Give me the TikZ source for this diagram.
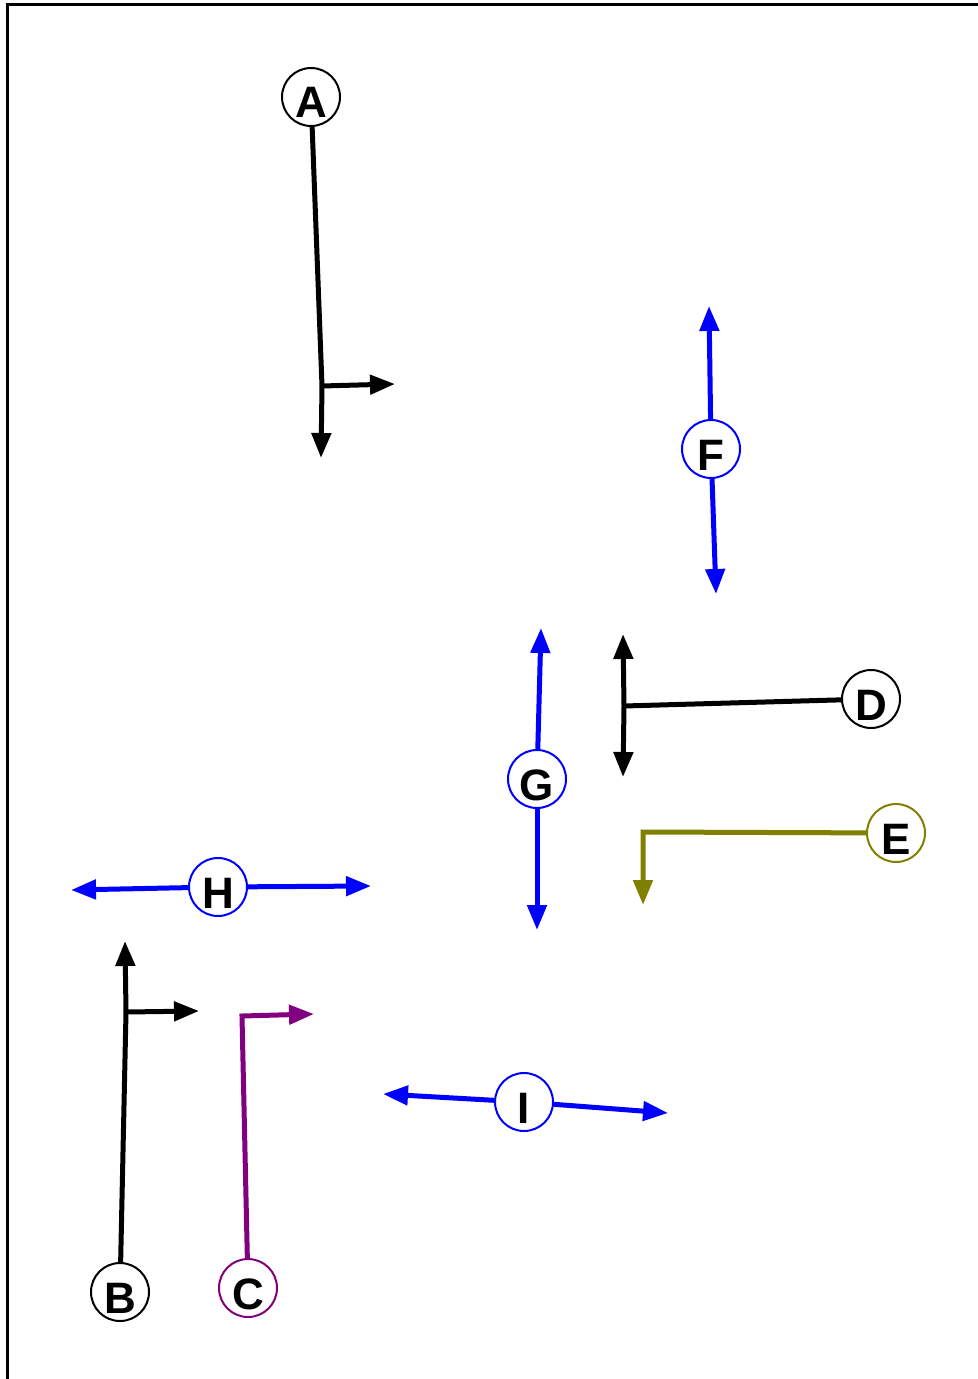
\documentclass[tikz,border=0pt]{standalone}
\usepackage{fontspec}
\setmainfont{Liberation Sans}
\usepackage{xcolor}
\usetikzlibrary{shapes,arrows.meta,positioning,calc}

\definecolor{olivec}{RGB}{128,128,0}
\definecolor{purplec}{RGB}{128,0,128}

\tikzset{
    letter/.style={circle, draw, fill=white, line width=1pt, minimum size=29pt, inner sep=0pt,
        font=\fontsize{22}{22}\selectfont\bfseries, text height=21pt, text depth=0pt},
    wire/.style={line width=2.5pt},
    arr/.style={wire, -{Triangle[length=12.5pt,width=9.5pt]}}
}

\begin{document}
\begin{tikzpicture}[x=0.5pt, y=-0.5pt]
    \useasboundingbox (0,0) rectangle (978,1379);
    % Frame
    \draw[line width=1.5pt] (7,1379) -- (7,5) -- (978,5);

    % Nodes
    \node[letter] (A) at (311,97) {A};
    \node[letter] (B) at (120,1292) {B};
    \node[letter, draw=purplec] (C) at (248,1288) {C};
    \node[letter] (D) at (871,699) {D};
    \node[letter, draw=olivec] (E) at (896,833) {E};
    \node[letter, draw=blue] (F) at (711,449) {F};
    \node[letter, draw=blue] (G) at (537,779) {G};
    \node[letter, draw=blue] (H) at (218,887) {H};
    \node[letter, draw=blue] (I) at (524,1102) {I};

    % Branch points and free ends
    \coordinate (aj) at (322,386);
    \coordinate (bj) at (126,1012);
    \coordinate (cj) at (242,1016);
    \coordinate (dj) at (624,706);
    \coordinate (ej) at (643,832);

    % Black connectors
    \draw[wire] (A) -- (aj);
    \draw[arr] (aj) -- (321,458);
    \draw[arr] (aj) -- (395,384);
    \draw[wire] (B) -- (bj);
    \draw[arr] (bj) -- (125,941);
    \draw[arr] (bj) -- (199,1011);
    \draw[wire] (D) -- (dj);
    \draw[arr] (dj) -- (623,634);
    \draw[arr] (dj) -- (623,777);

    % Coloured connectors
    \draw[arr, purplec] (C) -- (cj) -- (314,1014);
    \draw[arr, olivec] (E) -- (ej) -- (643,905);

    % Blue double arrows
    \foreach \n/\p/\q in {F/{(709,306)}/{(716,594)}, G/{(541,628)}/{(537,930)},
                          H/{(71,890)}/{(371,886)}, I/{(383,1094)}/{(668,1113)}} {
        \draw[arr, blue] (\n) -- \p;
        \draw[arr, blue] (\n) -- \q;
    }
\end{tikzpicture}
\end{document}
